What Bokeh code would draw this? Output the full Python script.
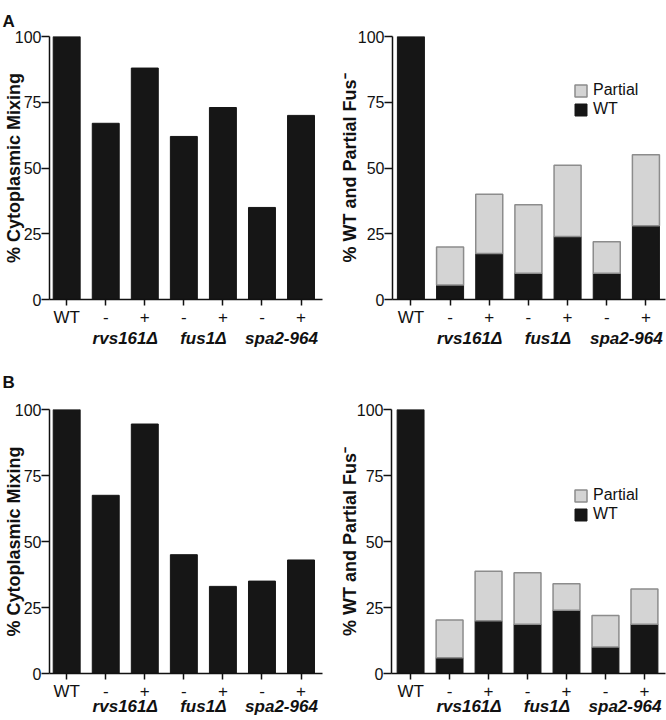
from bokeh.plotting import figure
from bokeh.models import (Range1d, FixedTicker, Legend, LegendItem, ColumnDataSource,
                          LinearAxis)
from bokeh.layouts import row, column
from bokeh.embed import file_html
from bokeh.resources import INLINE

# ---------------- data ----------------
cats = ["WT", "-", "+", "-", "+", "-", "+"]
groups = ["rvs161\u0394", "fus1\u0394", "spa2-964"]
group_pos = [1.5, 3.5, 5.5]
y_ticks = [0, 25, 50, 75, 100]

A_mixing = [100, 67, 88, 62, 73, 35, 70]
A_wt = [100, 5.5, 17.5, 10, 24, 10, 28]
A_partial = [0, 14.5, 22.5, 26, 27, 12, 27]

B_mixing = [100, 67.5, 94.5, 45, 33, 35, 43]
B_wt = [100, 6, 20, 18.7, 24, 10, 18.7]
B_partial = [0, 14.3, 18.7, 19.5, 10, 12, 13.3]

FONT = "Liberation Sans"
INK = "#111111"
DARK = "#161616"
LIGHT = "#d4d4d4"
EDGE = "#8c8c8c"


def base_fig(width, height, left, right, top, bottom, xr, ytitle, title_standoff,
             group_standoff, letter="", letter_standoff=10, letter_valign="top"):
    p = figure(width=width, height=height, output_backend="svg", toolbar_location=None,
               x_range=Range1d(*xr), y_range=Range1d(0, 100),
               min_border_left=left, min_border_right=right,
               min_border_top=top, min_border_bottom=bottom)
    p.outline_line_color = None
    p.grid.visible = False
    p.background_fill_color = "white"
    p.border_fill_color = "white"
    for ax in (p.xaxis[0], p.yaxis[0]):
        ax.axis_line_width = 1.5
        ax.axis_line_color = INK
        ax.major_tick_line_width = 1.5
        ax.major_tick_line_color = INK
        ax.major_tick_in = 0
        ax.minor_tick_line_color = None
        ax.major_label_text_font = FONT
        ax.major_label_text_font_size = "16px"
        ax.major_label_text_color = INK
    # y axis
    p.yaxis.ticker = FixedTicker(ticks=y_ticks)
    p.yaxis.major_tick_out = 8
    p.yaxis.major_label_standoff = 0
    p.yaxis.axis_label = ytitle
    p.yaxis.axis_label_text_font = FONT
    p.yaxis.axis_label_text_font_style = "bold"
    p.yaxis.axis_label_text_font_size = "18px"
    p.yaxis.axis_label_text_color = INK
    p.yaxis.axis_label_standoff = title_standoff
    # x axis (categories)
    p.xaxis.ticker = FixedTicker(ticks=list(range(len(cats))))
    p.xaxis.major_label_overrides = {i: c for i, c in enumerate(cats)}
    p.xaxis.major_tick_out = 6
    p.xaxis.major_label_standoff = 2
    p.xaxis.major_label_text_font_size = "17px"
    # second x axis carrying the strain names
    gax = LinearAxis(ticker=FixedTicker(ticks=group_pos),
                     major_label_overrides={g: t for g, t in zip(group_pos, groups)},
                     axis_line_color=None, major_tick_line_color=None,
                     minor_tick_line_color=None, major_tick_out=0, major_tick_in=0,
                     major_label_standoff=group_standoff,
                     major_label_text_font=FONT, major_label_text_font_size="17px",
                     major_label_text_font_style="bold italic",
                     major_label_text_color=INK)
    p.add_layout(gax, "below")
    # panel letter
    p.title.text = letter
    p.title.text_font = FONT
    p.title.text_font_style = "bold"
    p.title.text_font_size = "17px"
    p.title.text_color = INK
    p.title.align = "left"
    p.title.vertical_align = letter_valign
    p.title.offset = -left + 2
    p.title.standoff = letter_standoff
    return p


def mixing_fig(vals, **kw):
    p = base_fig(ytitle="% Cytoplasmic Mixing", **kw)
    p.vbar(x=list(range(len(cats))), top=vals, width=0.69, fill_color=DARK, line_color=DARK)
    return p


def stacked_fig(wt, partial, legend_loc, **kw):
    p = base_fig(ytitle="% WT and Partial Fus\u207b", **kw)
    idx = list(range(len(cats)))
    r_wt = p.vbar(x=idx, top=wt, width=0.69, fill_color=DARK, line_color=DARK)
    keep = [i for i in idx if partial[i] > 0]
    src = ColumnDataSource(dict(x=keep, bottom=[wt[i] for i in keep],
                                top=[wt[i] + partial[i] for i in keep]))
    r_p = p.vbar(x="x", bottom="bottom", top="top", width=0.69, source=src,
                 fill_color=LIGHT, line_color=EDGE, line_width=1.5)
    leg = Legend(items=[LegendItem(label="Partial", renderers=[r_p]),
                        LegendItem(label="WT", renderers=[r_wt])],
                 location=legend_loc, glyph_width=15, glyph_height=15,
                 label_text_font=FONT, label_text_font_size="16px", label_text_color=INK,
                 label_standoff=5, spacing=1, padding=0, margin=0,
                 border_line_color=None, background_fill_alpha=0)
    p.add_layout(leg)
    return p


TOP_H, BOT_H = 350, 370
pA1 = mixing_fig(A_mixing, width=333, height=TOP_H, left=49, right=11, top=36, bottom=51,
                 xr=(-0.44, 6.55), title_standoff=-12, group_standoff=-1,
                 letter="A", letter_standoff=8)
pA2 = stacked_fig(A_wt, A_partial, (181, 181), width=333, height=TOP_H, left=59, right=1,
                  top=35, bottom=51, xr=(-0.47, 6.5), title_standoff=-5, group_standoff=-1)
pB1 = mixing_fig(B_mixing, width=333, height=BOT_H, left=49, right=11, top=59, bottom=47,
                 xr=(-0.44, 6.55), title_standoff=-12, group_standoff=-7,
                 letter="B", letter_standoff=33, letter_valign="middle")
pB2 = stacked_fig(B_wt, B_partial, (182, 150), width=333, height=BOT_H, left=58, right=1,
                  top=59, bottom=47, xr=(-0.49, 6.54), title_standoff=-6, group_standoff=-7)

layout = column(row(pA1, pA2), row(pB1, pB2))

open("out.html", "w").write(file_html(layout, INLINE))
